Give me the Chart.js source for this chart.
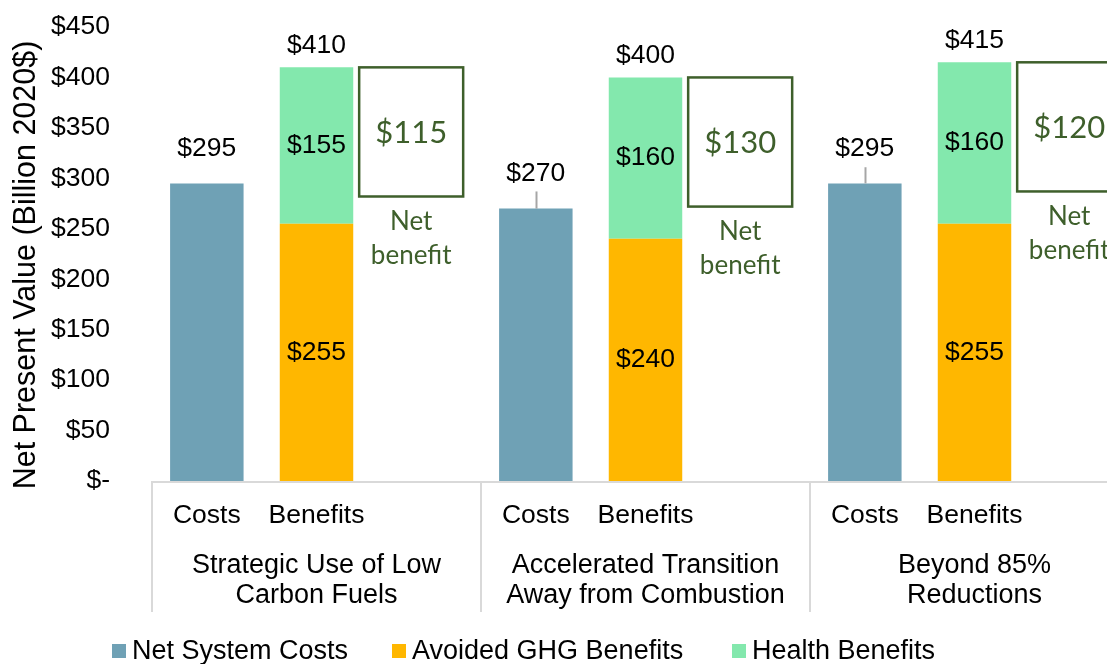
<!DOCTYPE html>
<html>
<head>
<meta charset="utf-8">
<script src="https://cdn.jsdelivr.net/npm/chart.js@4.4.0/dist/chart.umd.min.js"></script>
<style>
    html, body { margin: 0; padding: 0; background: #fff; overflow: hidden; }
    #wrap { width: 1107px; height: 664px; overflow: hidden; }
</style>
</head>
<body>
<div id="wrap"><canvas id="npvChart" width="1150" height="664"></canvas></div>
<script>
// Datos (miles de millones USD 2020)
const groupLabels = [
    ['Strategic Use of Low', 'Carbon Fuels'],
    ['Accelerated Transition', 'Away from Combustion'],
    ['Beyond 85%', 'Reductions']
];
const slotLabels = ['Costs', 'Benefits', ''];
const netSystemCosts = [295, 270, 295];
const costsErrorPlus = [0, 17, 16];
const avoidedGhg = [255, 240, 255];
const healthBenefits = [155, 160, 160];
const benefitTotals = [410, 400, 415];
const netBenefits = [115, 130, 120];
const yMin = 0, yMax = 450, yStep = 50;
const yTitle = 'Net Present Value (Billion 2020$)';

const seriesNames = ['Net System Costs', 'Avoided GHG Benefits', 'Health Benefits'];
const seriesColors = ['#6fa1b5', '#ffb700', '#83e8ad'];
const boxGreen = '#3e5f2b';
const BASE_FONT = '"Liberation Sans", Arial, sans-serif';

// arma las 9 categorias (3 por grupo)
const labels = [];
groupLabels.forEach(() => slotLabels.forEach(s => labels.push(s)));

function spread(values, slot) {
    const out = [];
    values.forEach(v => { slotLabels.forEach((s, i) => out.push(i === slot ? v : null)); });
    return out;
}

function money(v) { return v === 0 ? '$-' : '$' + v; }

const overlayPlugin = {
    id: 'overlay',
    afterDraw(chart) {
        const ctx = chart.ctx;
        const area = chart.chartArea;
        const x = chart.scales.x, y = chart.scales.y;
        const groupW = (area.right - area.left) / groupLabels.length;
        ctx.save();

        // titulo eje y
        ctx.save();
        ctx.translate(27, 265);
        ctx.rotate(-Math.PI / 2);
        ctx.fillStyle = '#000';
        ctx.font = '30.5px ' + BASE_FONT;
        ctx.textAlign = 'center';
        ctx.textBaseline = 'middle';
        ctx.fillText(yTitle, 0, 0);
        ctx.restore();

        // eje x y separadores de grupo
        ctx.strokeStyle = '#d9d9d9';
        ctx.lineWidth = 2;
        ctx.beginPath();
        ctx.moveTo(area.left, area.bottom + 1);
        ctx.lineTo(area.right, area.bottom + 1);
        for (let g = 0; g <= groupLabels.length; g++) {
            const gx = Math.round(area.left + g * groupW);
            ctx.moveTo(gx, area.bottom);
            ctx.lineTo(gx, area.bottom + 131);
        }
        ctx.stroke();

        // etiquetas de grupo
        ctx.fillStyle = '#000';
        ctx.font = '27px ' + BASE_FONT;
        ctx.textAlign = 'center';
        ctx.textBaseline = 'middle';
        groupLabels.forEach((lines, g) => {
            const cx = area.left + (g + 0.5) * groupW;
            lines.forEach((t, i) => ctx.fillText(t, cx, area.bottom + 85 + i * 30));
        });

        // barras de error en costos
        ctx.strokeStyle = '#a6a6a6';
        ctx.lineWidth = 2;
        netSystemCosts.forEach((v, g) => {
            if (!costsErrorPlus[g]) return;
            const bx = Math.round(x.getPixelForValue(g * 3)) + 0.5;
            ctx.beginPath();
            ctx.moveTo(bx, y.getPixelForValue(v));
            ctx.lineTo(bx, y.getPixelForValue(v + costsErrorPlus[g]));
            ctx.stroke();
        });

        // etiquetas de valores
        ctx.fillStyle = '#000';
        ctx.font = '26.5px ' + BASE_FONT;
        netSystemCosts.forEach((v, g) => {
            ctx.fillText(money(v), x.getPixelForValue(g * 3), y.getPixelForValue(v) - 35);
        });
        benefitTotals.forEach((v, g) => {
            const bx = x.getPixelForValue(g * 3 + 1);
            ctx.fillText(money(v), bx, y.getPixelForValue(v) - 22);
            const ghg = avoidedGhg[g], hb = healthBenefits[g];
            ctx.fillText(money(ghg), bx, (y.getPixelForValue(0) + y.getPixelForValue(ghg)) / 2);
            ctx.fillText(money(hb), bx, (y.getPixelForValue(ghg) + y.getPixelForValue(ghg + hb)) / 2);
        });

        // recuadros de beneficio neto
        netBenefits.forEach((nb, g) => {
            const cx = x.getPixelForValue(g * 3 + 2);
            const left = cx - 67, w = 104;
            const top = y.getPixelForValue(benefitTotals[g]);
            const bottom = y.getPixelForValue(benefitTotals[g] - 128);
            ctx.strokeStyle = boxGreen;
            ctx.lineWidth = 2.5;
            ctx.strokeRect(left, top, w, bottom - top);
            ctx.fillStyle = boxGreen;
            ctx.font = '31px Lato, "Open Sans", sans-serif';
            ctx.fillText('$' + nb, left + w / 2, (top + bottom) / 2 + 1);
            ctx.font = '26px Lato, "Open Sans", sans-serif';
            ctx.fillText('Net', left + w / 2, bottom + 25);
            ctx.fillText('benefit', left + w / 2, bottom + 59);
        });

        // leyenda
        const legendX = [112, 392, 732];
        ctx.font = '27px ' + BASE_FONT;
        ctx.textAlign = 'left';
        seriesNames.forEach((name, i) => {
            ctx.fillStyle = seriesColors[i];
            ctx.fillRect(legendX[i], 644, 14, 14);
            ctx.fillStyle = '#000';
            ctx.fillText(name, legendX[i] + 20, 652);
        });
        ctx.restore();
    }
};

const chart = new Chart(document.getElementById('npvChart').getContext('2d'), {
    type: 'bar',
    data: {
        labels: labels,
        datasets: [
            { label: seriesNames[0], data: spread(netSystemCosts, 0), backgroundColor: seriesColors[0] },
            { label: seriesNames[1], data: spread(avoidedGhg, 1), backgroundColor: seriesColors[1] },
            { label: seriesNames[2], data: spread(healthBenefits, 1), backgroundColor: seriesColors[2] }
        ]
    },
    options: {
        responsive: false,
        animation: false,
        layout: { padding: { left: 0, right: 11, top: 27, bottom: 0 } },
        datasets: { bar: { categoryPercentage: 1.0, barPercentage: 0.67 } },
        scales: {
            x: {
                stacked: true,
                grid: { display: false },
                border: { display: false },
                ticks: { color: '#000', font: { size: 26.5, family: BASE_FONT }, autoSkip: false, maxRotation: 0, padding: 11 },
                afterFit(scale) { scale.height = 183; }
            },
            y: {
                stacked: true,
                min: yMin,
                max: yMax,
                grid: { display: false },
                border: { display: false },
                ticks: { stepSize: yStep, color: '#000', padding: 34, font: { size: 26.5, family: BASE_FONT }, callback: v => money(v) },
                afterFit(scale) {
                    scale.width = 152;
                    // el padding de ticks no debe empujar el area del grafico
                    scale.paddingTop = 0;
                    scale.paddingBottom = 0;
                }
            }
        },
        plugins: {
            legend: { display: false },
            tooltip: { enabled: false }
        }
    },
    plugins: [overlayPlugin]
});
</script>
</body>
</html>
